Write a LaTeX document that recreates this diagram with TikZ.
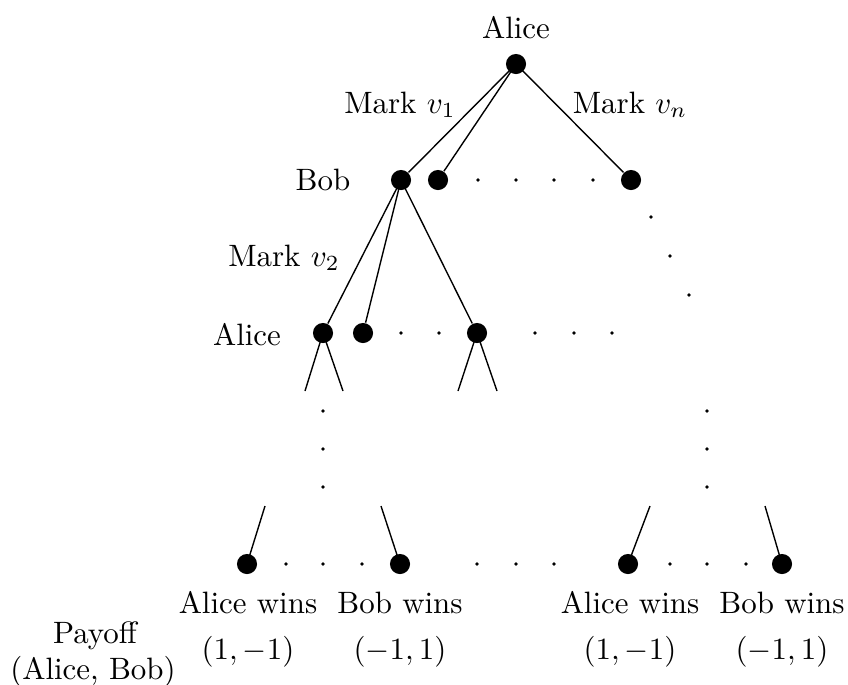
\documentclass[tikz,border=0pt]{standalone}
\begin{document}
\begin{tikzpicture}[x=0.01137cm, y=-0.01137cm,
  player/.style={circle, fill=black, inner sep=0pt, minimum size=6.5pt},
  dotmark/.style={circle, fill=black, inner sep=0pt, minimum size=1.2pt},
  lbl/.style={anchor=base, inner sep=0pt},
  edge/.style={line width=0.45pt}]
\useasboundingbox (0,0) rectangle (848,684);

% decision nodes
\node[player] (root) at (516,64) {};
\node[player] (b1) at (401,180) {};
\node[player] (b2) at (438,180) {};
\node[player] (bn) at (631,180) {};
\node[player] (a1) at (323,333) {};
\node[player] (a2) at (363,333) {};
\node[player] (a3) at (477,333) {};

% terminal nodes
\node[player] (t1) at (247,564) {};
\node[player] (t2) at (400,564) {};
\node[player] (t3) at (628,564) {};
\node[player] (t4) at (782,564) {};

% loose ends of the elided branches
\coordinate (s1) at (305,391);
\coordinate (s2) at (343,391);
\coordinate (s3) at (458,391);
\coordinate (s4) at (497,391);
\coordinate (u1) at (265,506);
\coordinate (u2) at (381,506);
\coordinate (u3) at (650,506);
\coordinate (u4) at (765,506);

% branches
\draw[edge] (root.center) -- (b1);
\draw[edge] (root.center) -- (b2);
\draw[edge] (root.center) -- (bn);
\draw[edge] (b1.center) -- (a1);
\draw[edge] (b1.center) -- (a2);
\draw[edge] (b1.center) -- (a3);
\draw[edge] (a1.center) -- (s1);
\draw[edge] (a1.center) -- (s2);
\draw[edge] (a3.center) -- (s3);
\draw[edge] (a3.center) -- (s4);
\draw[edge] (u1) -- (t1.center);
\draw[edge] (u2) -- (t2.center);
\draw[edge] (u3) -- (t3.center);
\draw[edge] (u4) -- (t4.center);

% ellipsis dots
\foreach \x in {478,516,554,593} \node[dotmark] at (\x,180) {};
\foreach \x/\y in {651/217,670/256,689/295} \node[dotmark] at (\x,\y) {};
\foreach \x in {401,439,535,574,612} \node[dotmark] at (\x,333) {};
\foreach \y in {411,449,487} {
  \node[dotmark] at (323,\y) {};
  \node[dotmark] at (707,\y) {};
}
\foreach \x in {286,323,362,477,516,554,670,707,746} \node[dotmark] at (\x,564) {};

% players and moves
\node[lbl] (lroot) at (516,38) {Alice};
\node[lbl] (lm1) at (400,113) {Mark $v_1$};
\node[lbl] (lmn) at (630,113) {Mark $v_n$};
\node[lbl] (lbob) at (323,190) {Bob};
\node[lbl] (lm2) at (284,266) {Mark $v_2$};
\node[lbl] (lal) at (247,345) {Alice};

% outcomes
\node[lbl] (w1) at (248,613) {Alice wins};
\node[lbl] (w2) at (400,613) {Bob wins};
\node[lbl] (w3) at (630,613) {Alice wins};
\node[lbl] (w4) at (782,613) {Bob wins};
\node[lbl] (pay) at (95,643) {Payoff};
\node[lbl] (pay2) at (93,679) {(Alice, Bob)};
\node[lbl] (p1) at (248,659) {$(1,-1)$};
\node[lbl] (p2) at (400,659) {$(-1,1)$};
\node[lbl] (p3) at (630,659) {$(1,-1)$};
\node[lbl] (p4) at (782,659) {$(-1,1)$};
\end{tikzpicture}
\end{document}
